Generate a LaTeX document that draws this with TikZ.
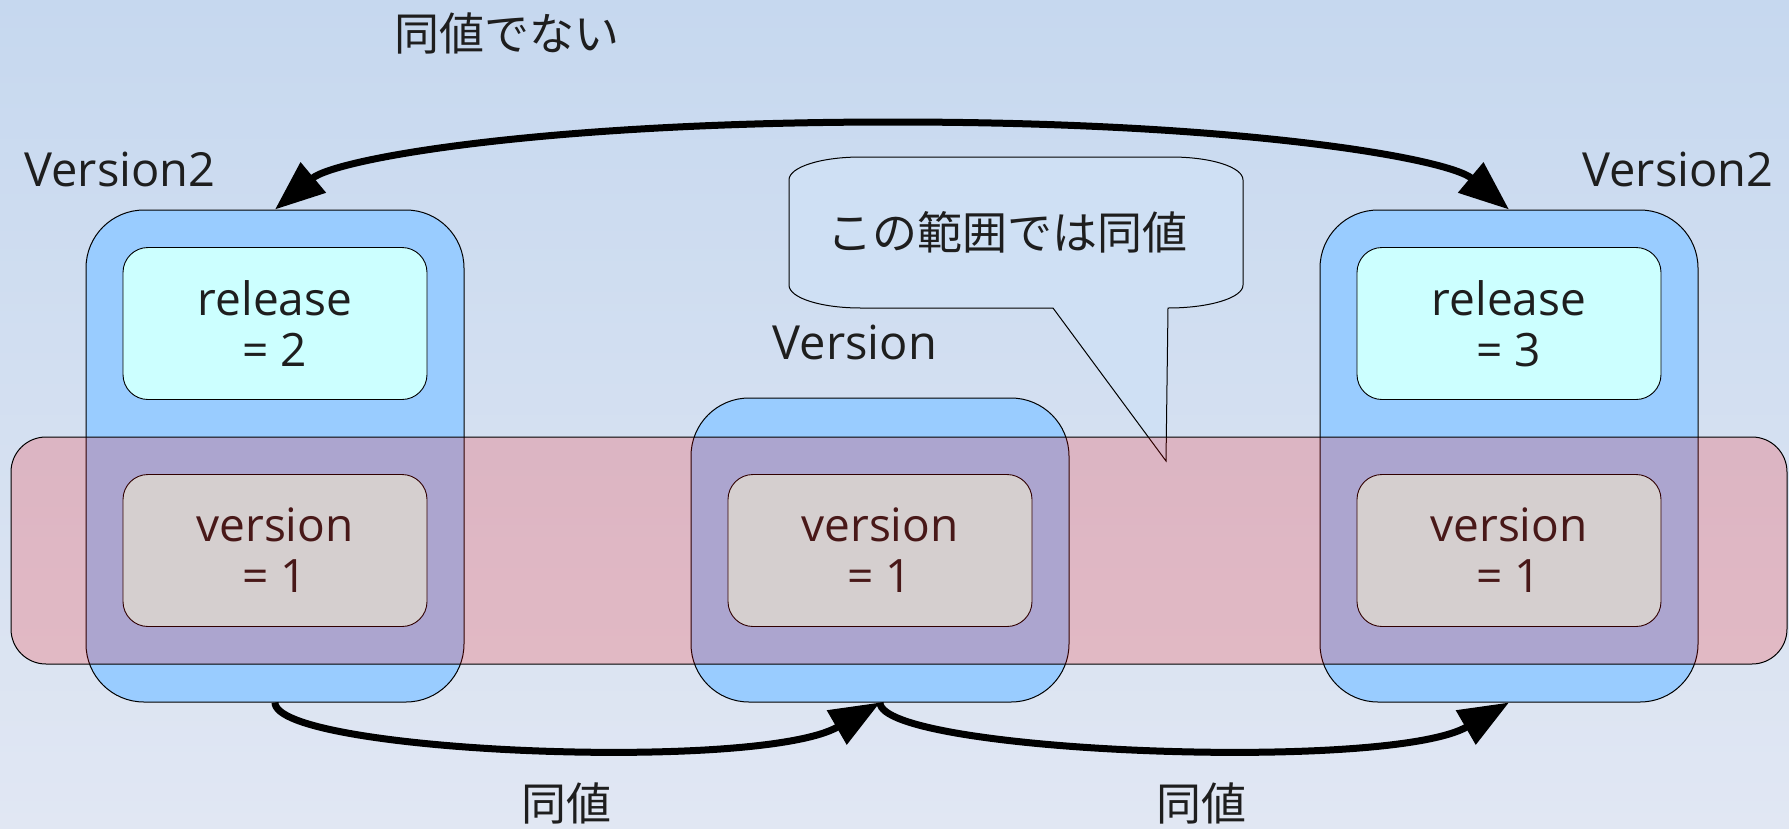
\documentclass[tikz,border=0pt]{standalone}
\usepackage{fontspec}
\setmainfont{Open Sans}
\newfontfamily\jpfont{Noto Sans CJK JP}
\usetikzlibrary{arrows.meta}
\definecolor{bgtop}{RGB}{198,216,239}
\definecolor{bgmid}{RGB}{222,229,242}
\definecolor{bgbot}{RGB}{225,231,243}
\definecolor{bluefill}{HTML}{99CCFF}
\definecolor{cyanfill}{HTML}{CCFFFF}
\definecolor{calloutfill}{RGB}{207,224,244}
\definecolor{txt}{RGB}{30,30,30}
\newcommand\bxfont{\fontsize{46pt}{51pt}\selectfont}
\newcommand\lblfont{\fontsize{47pt}{52pt}\selectfont}
\newcommand\jplbl{\jpfont\fontsize{45pt}{52pt}\selectfont}
\tikzset{
  outerbox/.style={draw=black, line width=1pt, fill=bluefill, rounded corners=58pt,
    minimum width=378pt, inner sep=0pt},
  innerbox/.style={draw=black, line width=0.9pt, fill=cyanfill, rounded corners=25pt,
    minimum width=304pt, minimum height=152pt, inner sep=0pt, align=center,
    text=txt, font=\bxfont},
  lbl/.style={anchor=base, text=txt, inner sep=0pt, font=\lblfont},
  jplabel/.style={anchor=base, text=txt, inner sep=0pt, font=\jplbl},
  band/.style={draw=black, line width=1pt, fill=red, fill opacity=0.19,
    rounded corners=35pt, minimum width=1776pt, minimum height=227pt, inner sep=0pt},
  conn/.style={line width=7pt, black},
  tipA/.tip={Triangle[length=50pt,width=38pt]}
}
\begin{document}
\begin{tikzpicture}[x=1pt,y=-1pt]
\useasboundingbox (0,0) rectangle (1789,828);
\shade[top color=bgtop, middle color=bgmid, bottom color=bgbot] (0,0) rectangle (1789,828);

% outer blue boxes
\node[outerbox, minimum height=492pt] (L) at (275,456) {};
\node[outerbox, minimum height=304pt] (M) at (880,550) {};
\node[outerbox, minimum height=492pt] (R) at (1509,456) {};

% inner boxes
\node[innerbox] (Lrel) at (275,323.5) {release\\= 2};
\node[innerbox] (Lver) at (275,550.5) {version\\= 1};
\node[innerbox] (Mver) at (880,550.5) {version\\= 1};
\node[innerbox] (Rrel) at (1509,323.5) {release\\= 3};
\node[innerbox] (Rver) at (1509,550.5) {version\\= 1};

% labels
\node[lbl] (lv2) at (120,186) {Version2};
\node[lbl] (mv) at (855,359) {Version};
\node[lbl] (rv2) at (1678,186) {Version2};
\node[jplabel] (neq) at (507,50) {同値でない};
\node[jplabel] (eq1) at (566,820) {同値};
\node[jplabel] (eq2) at (1201,820) {同値};

% callout
\draw[line width=1pt, fill=calloutfill]
  (861,157) -- (1171,157) .. controls (1211,157) and (1243,167) .. (1243,180)
  -- (1243,285) .. controls (1243,298) and (1209,308) .. (1168,308)
  -- (1166,461) -- (1053,308) -- (861,308)
  .. controls (821,308) and (789,298) .. (789,285)
  -- (789,180) .. controls (789,167) and (821,157) .. (861,157) -- cycle;
\node[jplabel] (callout) at (1007,249) {この範囲では同値};

% connectors
\coordinate (peak) at (893,122);
\draw[conn, {tipA}-{tipA}] (L.north) .. controls +(61,-51) and +(-350,0) .. (peak)
  .. controls +(350,0) and +(-61,-51) .. (R.north);
\draw[conn, -{tipA}] (L.south) .. controls +(0,50) and +(-121,70) .. (M.south);
\draw[conn, -{tipA}] (M.south) .. controls +(0,50) and +(-121,70) .. (R.south);

% translucent band on top
\node[band] (B) at (899,550.5) {};
\end{tikzpicture}
\end{document}
